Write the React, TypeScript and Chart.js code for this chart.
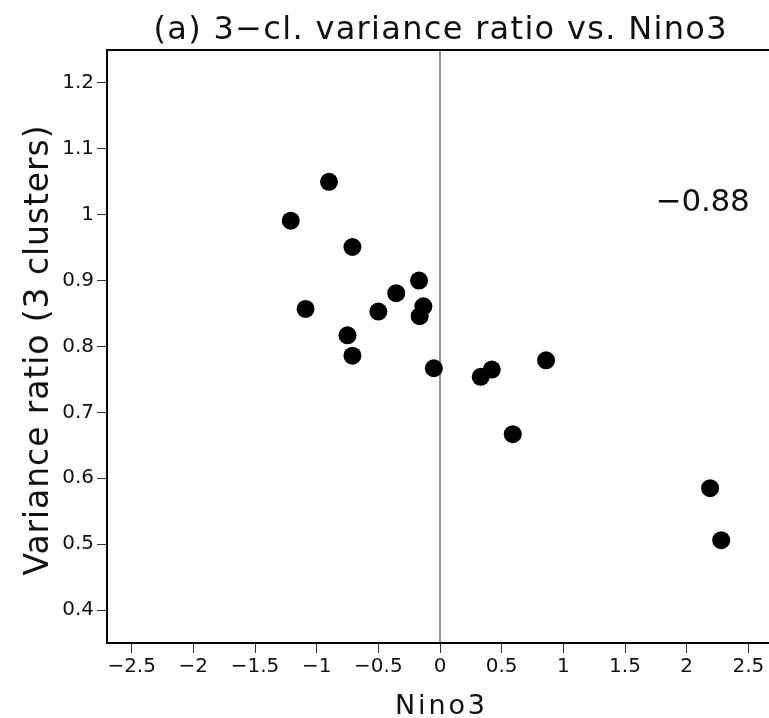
import React, { useEffect, useRef } from "react";
import { Chart, registerables } from "chart.js";

Chart.register(...registerables);

const nino3: number[] = [-1.21, -0.9, -0.71, -1.09, -0.75, -0.71, -0.5, -0.355, -0.17, -0.135, -0.165, -0.05, 0.33, 0.42, 0.86, 0.59, 2.19, 2.28];
const varianceRatio: number[] = [0.991, 1.05, 0.951, 0.857, 0.817, 0.786, 0.853, 0.881, 0.9, 0.861, 0.846, 0.767, 0.754, 0.765, 0.779, 0.667, 0.585, 0.506];
const xRange: number[] = [-2.7, 2.7];
const yRange: number[] = [0.35, 1.25];
const xStep = 0.5;
const yStep = 0.1;
const correlationLabel = "\u22120.88";
const correlationPos: number[] = [2.13, 1.006];
const titleText = "(a) 3\u2212cl. variance ratio vs. Nino3";
const xTitle = "Nino3";
const yTitle = "Variance ratio (3 clusters)";

const BIG_FONT = "'DejaVu Sans', 'Liberation Sans', sans-serif";
const TICK_FONT = "'DejaVu Sans', 'Liberation Sans', sans-serif";

function fmt(v: number): string {
  const s = String(Number(v.toFixed(2)));
  return s.replace("-", "\u2212");
}

function onStep(step: number) {
  return (scale: any) => {
    const lo = Math.ceil(scale.min / step - 1e-9);
    const hi = Math.floor(scale.max / step + 1e-9);
    const ticks: any[] = [];
    for (let k = lo; k <= hi; k++) ticks.push({ value: Number((k * step).toFixed(6)) });
    scale.ticks = ticks;
  };
}

function drawSpaced(ctx: any, text: string, size: number, target: number) {
  ctx.font = `${size}px ${BIG_FONT}`;
  ctx.letterSpacing = "0px";
  const w = ctx.measureText(text).width;
  const n = Array.from(text).length;
  const sp = n > 1 ? (target - w) / (n - 1) : 0;
  ctx.letterSpacing = `${sp}px`;
  ctx.textAlign = "left";
  ctx.textBaseline = "alphabetic";
  ctx.fillText(text, -target / 2, 0);
  ctx.letterSpacing = "0px";
}

const textPlugin = {
  id: "frameAndText",
  afterDatasetsDraw(chart: any) {
    const { ctx, chartArea, scales } = chart;
    const cx = (chartArea.left + chartArea.right) / 2;
    const cy = (chartArea.top + chartArea.bottom) / 2;
    ctx.save();
    ctx.strokeStyle = "#000";
    ctx.lineWidth = 2;
    ctx.strokeRect(chartArea.left, chartArea.top, chartArea.right - chartArea.left, chartArea.bottom - chartArea.top);
    ctx.fillStyle = "#111";

    ctx.save();
    ctx.translate(cx, 39);
    drawSpaced(ctx, titleText, 32, 573);
    ctx.restore();

    ctx.save();
    ctx.translate(cx, 714);
    drawSpaced(ctx, xTitle, 27, 90);
    ctx.restore();

    ctx.save();
    ctx.translate(48, cy + 4);
    ctx.rotate(-Math.PI / 2);
    drawSpaced(ctx, yTitle, 33, 450);
    ctx.restore();

    ctx.save();
    ctx.translate(scales.x.getPixelForValue(correlationPos[0]), scales.y.getPixelForValue(correlationPos[1]));
    drawSpaced(ctx, correlationLabel, 31, 94);
    ctx.restore();

    ctx.restore();
  },
};

export default function App() {
  const ref = useRef<HTMLCanvasElement | null>(null);
  useEffect(() => {
    if (!ref.current) return;
    const points = nino3.map((x, i) => ({ x, y: varianceRatio[i] }));
    const chart = new Chart(ref.current, {
      type: "scatter",
      data: {
        datasets: [
          {
            data: points,
            backgroundColor: "#000",
            borderColor: "#000",
            borderWidth: 0,
            pointRadius: 9,
            pointHoverRadius: 9,
            order: 1,
          },
          {
            type: "line",
            data: [
              { x: 0, y: yRange[0] },
              { x: 0, y: yRange[1] },
            ],
            borderColor: "#707070",
            borderWidth: 1.5,
            pointRadius: 0,
            showLine: true,
            order: 2,
          } as any,
        ],
      },
      options: {
        responsive: false,
        animation: false,
        layout: { padding: { left: 0, right: 2, top: 50, bottom: 0 } },
        plugins: {
          legend: { display: false },
          tooltip: { enabled: false },
          title: { display: false },
        },
        scales: {
          x: {
            type: "linear",
            min: xRange[0],
            max: xRange[1],
            afterBuildTicks: onStep(xStep),
            afterFit: (s: any) => {
              s.height = 75;
            },
            ticks: {
              color: "#111",
              font: { family: TICK_FONT, size: 20 },
              padding: 2,
              maxRotation: 0,
              autoSkip: false,
              callback: (v: any) => fmt(Number(v)),
            },
            grid: { drawOnChartArea: false, drawTicks: true, tickLength: 10, color: "#333", lineWidth: 1 },
            border: { display: false },
            title: { display: false },
          },
          y: {
            type: "linear",
            min: yRange[0],
            max: yRange[1],
            afterBuildTicks: onStep(yStep),
            afterFit: (s: any) => {
              s.width = 107;
            },
            ticks: {
              color: "#111",
              font: { family: TICK_FONT, size: 20 },
              padding: 3,
              autoSkip: false,
              callback: (v: any) => fmt(Number(v)),
            },
            grid: { drawOnChartArea: false, drawTicks: true, tickLength: 10, color: "#333", lineWidth: 1 },
            border: { display: false },
            title: { display: false },
          },
        },
      },
      plugins: [textPlugin],
    });
    return () => chart.destroy();
  }, []);
  return (
    <div style={{ position: "fixed", left: 0, top: 0, width: 769, height: 718, overflow: "hidden", background: "#fff" }}>
      <canvas ref={ref} width={782} height={718} style={{ display: "block" }} />
    </div>
  );
}
